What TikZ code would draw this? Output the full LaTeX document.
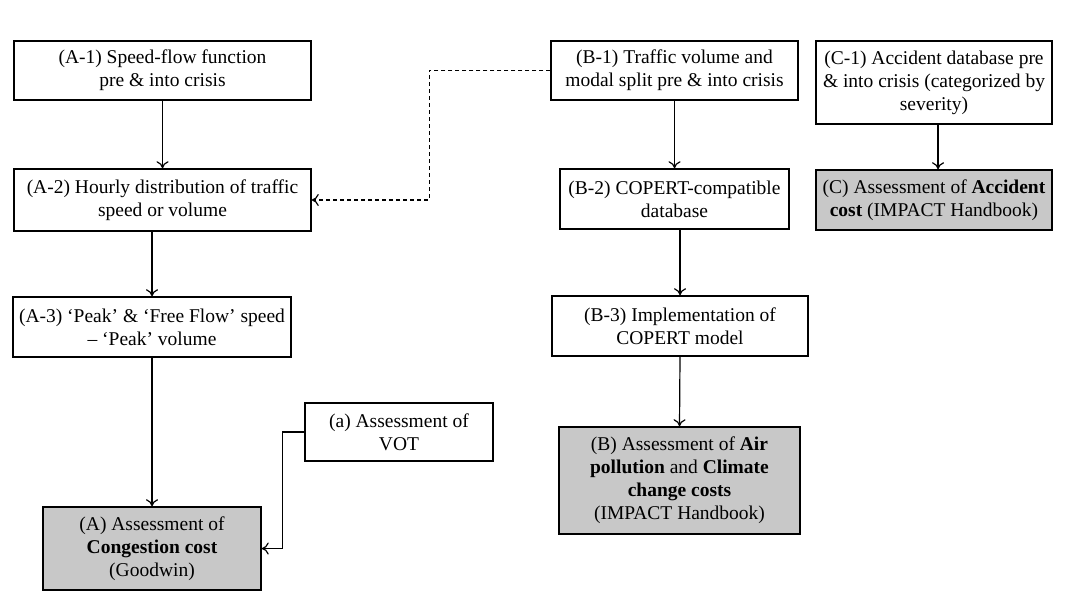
\documentclass[tikz,border=0pt]{standalone}
\usepackage{fontspec}
\setmainfont{Liberation Serif}
\usetikzlibrary{arrows.meta}
\definecolor{boxgray}{RGB}{200,200,200}
\begin{document}
\begin{tikzpicture}[x=1pt,y=-1pt,
  box/.style={draw=black, line width=1.5pt, fill=white, align=center, inner sep=2pt,
    font=\fontsize{19.5}{23}\selectfont},
  result/.style={box, fill=boxgray},
  conn/.style={line width=1.2pt, -{To[length=7pt,width=12pt]}},
  dconn/.style={conn, dashed, dash pattern=on 4pt off 3pt}]
\useasboundingbox (0,0) rectangle (1075,612);
\fill[white] (0,0) rectangle (1075,612);

\node[box, minimum width=297pt, minimum height=59pt] (a1) at (162.5,70.5) {(A-1) Speed-flow function\\pre \& into crisis};
\node[box, minimum width=297pt, minimum height=62pt] (a2) at (162.5,200) {(A-2) Hourly distribution of traffic\\speed or volume};
\node[box, minimum width=278pt, minimum height=60pt] (a3) at (152,327) {(A-3) ‘Peak’ \& ‘Free Flow’ speed\\– ‘Peak’ volume};
\node[result, minimum width=218pt, minimum height=83pt] (a) at (152,548.5) {(A) Assessment of\\\textbf{Congestion cost}\\(Goodwin)};
\node[box, minimum width=188pt, minimum height=58pt] (vot) at (399,432) {(a) Assessment of\\VOT};

\node[box, minimum width=247pt, minimum height=59pt] (b1) at (674.5,70.5) {(B-1) Traffic volume and\\modal split pre \& into crisis};
\node[box, minimum width=229pt, minimum height=60pt] (b2) at (674.5,199) {(B-2) COPERT-compatible\\database};
\node[box, minimum width=256pt, minimum height=60pt] (b3) at (680,326) {(B-3) Implementation of\\COPERT  model};
\node[result, minimum width=241pt, minimum height=107pt] (b) at (679.5,480.5) {(B) Assessment of \textbf{Air}\\\textbf{pollution} and \textbf{Climate}\\\textbf{change costs}\\(IMPACT Handbook)};

\node[box, minimum width=236pt, minimum height=83pt] (c1) at (934,82.5) {(C-1) Accident database pre\\\& into crisis (categorized by\\severity)};
\node[result, minimum width=236pt, minimum height=60pt] (c) at (934,200) {(C) Assessment of \textbf{Accident}\\\textbf{cost} (IMPACT Handbook)};

\draw[conn] (a1.south) -- (a2.north);
\draw[conn] (a2.south -| a3.north) -- (a3.north);
\draw[conn] (a3.south) -- (a.north);
\draw[conn] (vot.west) -- ++(-22,0) |- (a.east);
\draw[dconn] (b1.west) -- ++(-121,0) |- (a2.east);
\draw[conn] (b1.south) -- (b2.north);
\draw[conn] (b2.south -| b3.north) -- (b3.north);
\draw[conn] (b3.south) -- (b.north);
\draw[conn] (c1.south -| 938,0) -- (c.north -| 938,0);
\end{tikzpicture}
\end{document}
